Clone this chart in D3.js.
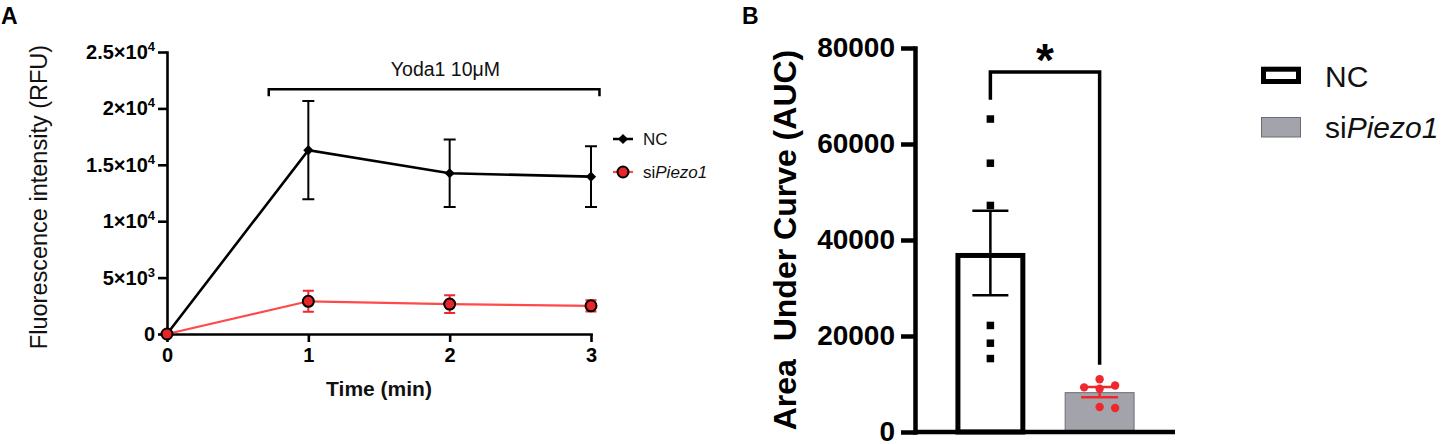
<!DOCTYPE html>
<html><head><meta charset="utf-8">
<script src="https://cdn.jsdelivr.net/npm/d3@7"></script>
<style>
html,body{margin:0;padding:0;background:#fff;}
svg{display:block;font-family:"Liberation Sans",Arial,Helvetica,sans-serif;}
</style>
</head><body>
<svg id="c" width="1442" height="444"></svg>
<script>
// ---------- Panel A data ----------
const times = [0, 1, 2, 3];
const ncMean = [0, 16300, 14250, 13950];
const ncSem = [0, 4350, 3000, 2700];
const siMean = [0, 2900, 2650, 2500];
const siSem = [0, 930, 780, 500];
const yTicksA = [0, 5000, 10000, 15000, 20000, 25000];
const tickMantA = ["0", "5×10", "1×10", "1.5×10", "2×10", "2.5×10"];
const tickExpA = ["", "3", "4", "4", "4", "4"];
const seriesNamesA = ["NC", "siPiezo1"];
const yodaLabel = "Yoda1 10μM";
const yodaSpan = [0.72, 3.06];
const yodaLevel = 21700;

// ---------- Panel B data ----------
const groups = ["NC", "siPiezo1"];
const aucMean = [37300, 8300];
const aucSem = [8800, 1050];
const ncPoints = [65200, 56000, 47200, 22200, 18500, 15300];
const siPoints = [11000, 9700, 9300, 9000, 5200, 5000];
const yTicksB = [0, 20000, 40000, 60000, 80000];
const bracketLevelB = 75000;
const bracketGapB = [4000, 3000];

const svg = d3.select("#c");
const RED = "#f0282e";
const LINE_RED = "#ff4a4a";

// ================= PANEL A =================
const xA = d3.scaleLinear().domain([0, 3]).range([167, 591]);
const yA = d3.scaleLinear().domain([0, 25000]).range([334, 52]);
const gA = svg.append("g");

svg.append("text").attr("x", 1).attr("y", 24).attr("font-size", 23).attr("font-weight", "bold").text("A");

const gyA = gA.append("g").attr("transform", `translate(${xA(0)},0)`)
  .call(d3.axisLeft(yA).tickValues(yTicksA).tickSize(9).tickSizeOuter(0).tickPadding(3).tickFormat(() => ""));
gyA.selectAll(".tick text").each(function (d, i) {
  const t = d3.select(this);
  t.text(null);
  t.append("tspan").text(tickMantA[i]);
  if (tickExpA[i]) t.append("tspan").attr("dy", -8).attr("font-size", 13).text(tickExpA[i]);
});
const gxA = gA.append("g").attr("transform", `translate(0,${yA(0)})`)
  .call(d3.axisBottom(xA).tickValues(times).tickSize(8).tickSizeOuter(0).tickPadding(6).tickFormat(d3.format("d")));
[gyA, gxA].forEach(g => {
  g.select(".domain").attr("stroke", "#000").attr("stroke-width", 2.6).attr("stroke-linecap", "square");
  g.selectAll(".tick line").attr("stroke", "#000").attr("stroke-width", 2.6);
  g.selectAll(".tick text").attr("font-size", 20).attr("font-weight", "bold").attr("fill", "#000")
    .attr("font-family", '"Liberation Sans",Arial,sans-serif');
});

gA.append("text").attr("transform", `translate(47,${(yA(0) + yA(25000)) / 2 + 4}) rotate(-90)`)
  .attr("text-anchor", "middle").attr("font-size", 23.5).attr("fill", "#111").text("Fluorescence intensity (RFU)");
gA.append("text").attr("x", (xA(0) + xA(3)) / 2).attr("y", 396).attr("text-anchor", "middle")
  .attr("font-size", 21).attr("font-weight", "bold").attr("fill", "#111").text("Time (min)");

const by = yA(yodaLevel);
gA.append("path").attr("fill", "none").attr("stroke", "#000").attr("stroke-width", 2.5)
  .attr("d", `M${xA(yodaSpan[0])},${by + 7}V${by}H${xA(yodaSpan[1])}V${by + 7}`);
gA.append("text").attr("x", xA(1.97)).attr("y", by - 13).attr("text-anchor", "middle")
  .attr("font-size", 19.5).attr("fill", "#111").text(yodaLabel);

const lineA = d3.line().x((d, i) => xA(times[i])).y(d => yA(d));
gA.append("path").datum(ncMean).attr("fill", "none").attr("stroke", "#000").attr("stroke-width", 2.6).attr("d", lineA);
const errA = (g, means, sems, color, cap, w) => {
  means.forEach((m, i) => {
    if (!sems[i]) return;
    const x = xA(times[i]), y1 = yA(m + sems[i]), y0 = yA(m - sems[i]);
    g.append("path").attr("fill", "none").attr("stroke", color).attr("stroke-width", w)
      .attr("d", `M${x},${y1}V${y0}M${x - cap / 2},${y1}H${x + cap / 2}M${x - cap / 2},${y0}H${x + cap / 2}`);
  });
};
errA(gA, ncMean, ncSem, "#000", 12, 2);
const diamond = d3.symbol().type(d3.symbolSquare).size(52);
gA.selectAll(".ncpt").data(ncMean).join("path").attr("class", "ncpt")
  .attr("transform", (d, i) => `translate(${xA(times[i])},${yA(d)}) rotate(45)`)
  .attr("d", diamond).attr("fill", "#000");

gA.append("path").datum(siMean).attr("fill", "none").attr("stroke", LINE_RED).attr("stroke-width", 2.2).attr("d", lineA);
errA(gA, siMean, siSem, RED, 11, 2);
gA.selectAll(".sipt").data(siMean).join("circle").attr("class", "sipt")
  .attr("cx", (d, i) => xA(times[i])).attr("cy", d => yA(d)).attr("r", 5.5)
  .attr("fill", "#e8262a").attr("stroke", "#000").attr("stroke-width", 2);

const legA = gA.append("g");
const legY = [139, 172];
legA.append("line").attr("x1", 613).attr("x2", 633).attr("y1", legY[0]).attr("y2", legY[0]).attr("stroke", "#000").attr("stroke-width", 2.5);
legA.append("path").attr("transform", `translate(623,${legY[0]}) rotate(45)`).attr("d", diamond).attr("fill", "#000");
legA.append("line").attr("x1", 613).attr("x2", 633).attr("y1", legY[1]).attr("y2", legY[1]).attr("stroke", LINE_RED).attr("stroke-width", 2.2);
legA.append("circle").attr("cx", 623).attr("cy", legY[1]).attr("r", 5.5).attr("fill", "#e8262a").attr("stroke", "#000").attr("stroke-width", 2);
legA.append("text").attr("x", 643).attr("y", legY[0] + 6).attr("font-size", 17).attr("fill", "#111").text(seriesNamesA[0]);
const tA2 = legA.append("text").attr("x", 643).attr("y", legY[1] + 6).attr("font-size", 17).attr("fill", "#111");
tA2.append("tspan").text(seriesNamesA[1].slice(0, 2));
tA2.append("tspan").attr("font-style", "italic").text(seriesNamesA[1].slice(2));

// ================= PANEL B =================
const yB = d3.scaleLinear().domain([0, 80000]).range([432, 48]);
const xB = d3.scaleBand().domain(groups).range([915, 1175]).paddingInner(0.36).paddingOuter(0.37);
const gB = svg.append("g");
svg.append("text").attr("x", 742).attr("y", 24).attr("font-size", 23).attr("font-weight", "bold").text("B");

const bw = xB.bandwidth();
gB.append("rect").attr("x", xB(groups[0]) + 2.5).attr("width", bw - 5)
  .attr("y", yB(aucMean[0]) + 2.5).attr("height", yB(0) - yB(aucMean[0]) - 2.5)
  .attr("fill", "#fff").attr("stroke", "#000").attr("stroke-width", 5);
gB.append("rect").attr("x", xB(groups[1]) + 0.5).attr("width", bw - 1)
  .attr("y", yB(aucMean[1]) + 0.5).attr("height", yB(0) - yB(aucMean[1]))
  .attr("fill", "#a3a3ab").attr("stroke", "#6c6c72").attr("stroke-width", 1);

const gyB = gB.append("g").attr("transform", `translate(${xB.range()[0]},0)`)
  .call(d3.axisLeft(yB).tickValues(yTicksB).tickSize(14).tickSizeOuter(0).tickPadding(6).tickFormat(d3.format("d")));
gyB.select(".domain").attr("stroke", "#000").attr("stroke-width", 4.5).attr("stroke-linecap", "square");
gyB.selectAll(".tick line").attr("stroke", "#000").attr("stroke-width", 4.5);
gyB.selectAll(".tick text").attr("font-size", 28).attr("font-weight", "bold").attr("fill", "#000")
  .attr("font-family", '"Liberation Sans",Arial,sans-serif');
gB.append("line").attr("x1", xB.range()[0]).attr("x2", xB.range()[1]).attr("y1", yB(0)).attr("y2", yB(0))
  .attr("stroke", "#000").attr("stroke-width", 4.5);

gB.append("text").attr("transform", `translate(796,${(yB(0) + yB(80000)) / 2}) rotate(-90)`)
  .attr("text-anchor", "middle").attr("font-size", 32).attr("font-weight", "bold").attr("fill", "#000")
  .style("white-space", "pre").text("Area  Under Curve (AUC)");

const cx0 = xB(groups[0]) + bw / 2, cx1 = xB(groups[1]) + bw / 2;
gB.selectAll(".ncsq").data(ncPoints).join("rect").attr("class", "ncsq")
  .attr("x", cx0 - 3.75).attr("y", d => yB(d) - 3.75).attr("width", 7.5).attr("height", 7.5).attr("fill", "#000");

// simple beeswarm layout for the siPiezo1 points
const r = 4.2, step = 15.5, minD = 9.5;
const placed = [];
siPoints.slice().sort((a, b) => b - a).forEach(v => {
  const y = yB(v);
  const cands = [0, 1, -1, 2, -2, 3, -3];
  for (const k of cands) {
    const x = k * step;
    if (placed.every(p => Math.hypot(p.x - x, p.y - y) >= minD)) { placed.push({ x, y }); break; }
  }
});

const errB = (cx, m, s, color, cap) => {
  gB.append("path").attr("fill", "none").attr("stroke", color).attr("stroke-width", 2.5)
    .attr("d", `M${cx},${yB(m + s)}V${yB(m - s)}M${cx - cap / 2},${yB(m + s)}H${cx + cap / 2}M${cx - cap / 2},${yB(m - s)}H${cx + cap / 2}`);
};
errB(cx0, aucMean[0], aucSem[0], "#000", 36);
gB.selectAll(".sidot").data(placed).join("circle").attr("class", "sidot")
  .attr("cx", d => cx1 + d.x).attr("cy", d => d.y).attr("r", r).attr("fill", RED);
errB(cx1, aucMean[1], aucSem[1], RED, 37);

const bl = yB(bracketLevelB);
gB.append("path").attr("fill", "none").attr("stroke", "#000").attr("stroke-width", 3.5)
  .attr("d", `M${cx0},${yB(d3.max(ncPoints) + bracketGapB[0])}V${bl}H${cx1}V${yB(d3.max(siPoints) + bracketGapB[1])}`);
gB.append("text").attr("x", (cx0 + cx1) / 2).attr("y", bl + 4).attr("text-anchor", "middle")
  .attr("font-size", 46).attr("font-weight", "bold").attr("fill", "#000").text("*");

const legB = gB.append("g");
legB.append("rect").attr("x", 1263.5).attr("y", 69.2).attr("width", 35).attr("height", 12.3)
  .attr("fill", "#fff").attr("stroke", "#000").attr("stroke-width", 5);
legB.append("rect").attr("x", 1261.5).attr("y", 117.5).attr("width", 39).attr("height", 19.5)
  .attr("fill", "#a3a3ab").attr("stroke", "#6c6c72").attr("stroke-width", 1);
legB.append("text").attr("x", 1325).attr("y", 86.5).attr("font-size", 30).attr("fill", "#111").text(groups[0]);
const tB2 = legB.append("text").attr("x", 1325).attr("y", 138).attr("font-size", 30).attr("fill", "#111");
tB2.append("tspan").text(groups[1].slice(0, 2));
tB2.append("tspan").attr("font-style", "italic").text(groups[1].slice(2));
</script>
</body></html>
